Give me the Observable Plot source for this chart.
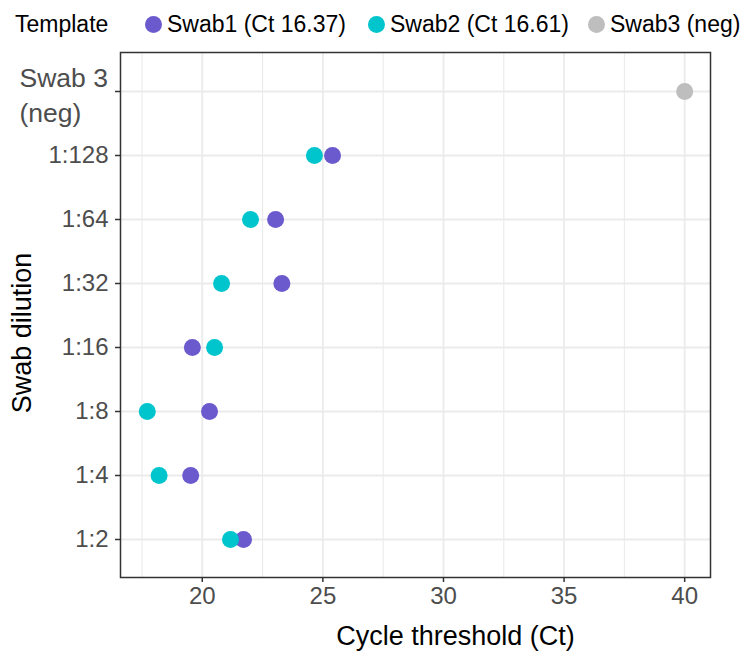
<!DOCTYPE html>
<html><head><meta charset="utf-8">
<script src="https://cdn.jsdelivr.net/npm/d3@7"></script>
<script src="https://cdn.jsdelivr.net/npm/@observablehq/plot@0.6"></script>
<style>
body{margin:0;background:#fff;font-family:"Liberation Sans",Arial,Helvetica,sans-serif;}
#legend{position:relative;height:48px;width:749px;font-size:23px;color:#000;}
.item{position:absolute;top:0;height:48px;display:flex;align-items:center;white-space:nowrap;}
.dot{width:17px;height:17px;border-radius:50%;margin-right:5px;}
</style></head><body>
<div id="legend"></div><div id="chart"></div>
<script>
const legendTitle = "Template";
const templates = ["Swab1 (Ct 16.37)", "Swab2 (Ct 16.61)", "Swab3 (neg)"];
const colors = ["#6A5ACD", "#00C5CD", "#BEBEBE"];
const dilutions = ["Swab 3\n(neg)", "1:128", "1:64", "1:32", "1:16", "1:8", "1:4", "1:2"];
const swabDilutions = ["1:2", "1:4", "1:8", "1:16", "1:32", "1:64", "1:128"];
const swab1Ct = [21.71, 19.52, 20.30, 19.59, 23.30, 23.04, 25.40];
const swab2Ct = [21.17, 18.21, 17.72, 20.51, 20.80, 22.00, 24.65];
const negDilutions = ["Swab 3\n(neg)"];
const swab3Ct = [40.0];
const xTicks = [20, 25, 30, 35, 40];
const xMinorTicks = [17.5, 22.5, 27.5, 32.5, 37.5];
const xTitle = "Cycle threshold (Ct)";
const yTitle = "Swab dilution";

const data = [
  ...swabDilutions.map((d, i) => ({dilution: d, ct: swab1Ct[i], template: templates[0]})),
  ...swabDilutions.map((d, i) => ({dilution: d, ct: swab2Ct[i], template: templates[1]})),
  ...negDilutions.map((d, i) => ({dilution: d, ct: swab3Ct[i], template: templates[2]}))
];

// legend
const legend = document.getElementById("legend");
const lt = document.createElement("div");
lt.className = "item"; lt.style.left = "15px"; lt.textContent = legendTitle;
legend.appendChild(lt);
const lefts = [145, 368, 588];
templates.forEach((t, i) => {
  const it = document.createElement("div");
  it.className = "item"; it.style.left = lefts[i] + "px";
  const dot = document.createElement("span");
  dot.className = "dot"; dot.style.background = colors[i];
  it.appendChild(dot);
  it.appendChild(document.createTextNode(t));
  legend.appendChild(it);
});

const plot = Plot.plot({
  width: 749,
  height: 616,
  marginTop: 4,
  marginBottom: 87,
  marginLeft: 120,
  marginRight: 39,
  style: {fontFamily: '"Liberation Sans", Arial, Helvetica, sans-serif', background: "#fff"},
  x: {domain: [16.61, 41.07]},
  y: {type: "point", domain: dilutions, padding: 0.6},
  color: {domain: templates, range: colors},
  marks: [
    Plot.gridX(xMinorTicks, {stroke: "#EBEBEB", strokeOpacity: 1, strokeWidth: 1.1}),
    Plot.gridX(xTicks, {stroke: "#EBEBEB", strokeOpacity: 1, strokeWidth: 1.8}),
    Plot.gridY(dilutions, {stroke: "#EBEBEB", strokeOpacity: 1, strokeWidth: 1.8}),
    Plot.frame({stroke: "#333333", strokeWidth: 1.5}),
    Plot.axisX({ticks: xTicks, tickSize: 5, tickPadding: 4, fontSize: 24, fill: "#4D4D4D", stroke: "#333333", strokeWidth: 1.5, label: null}),
    Plot.axisY({ticks: dilutions, tickSize: 5, tickPadding: 7, fontSize: 24, fill: "#4D4D4D", stroke: "#333333", strokeWidth: 1.5, label: null,
      tickFormat: d => d.includes("\n") ? "" : d}),
    Plot.text(negDilutions, {y: d => d, text: d => d, frameAnchor: "left", dx: -101, dy: 2, textAnchor: "start", lineAnchor: "middle", lineHeight: 1.3, fontSize: 26.5, fill: "#4D4D4D"}),
    Plot.text([xTitle], {text: d => d, frameAnchor: "bottom", dx: 40, dy: 59, textAnchor: "middle", lineAnchor: "middle", fontSize: 27, fill: "#000"}),
    Plot.text([yTitle], {text: d => d, frameAnchor: "left", dx: -98, dy: 18, rotate: -90, textAnchor: "middle", lineAnchor: "middle", fontSize: 27, fill: "#000"}),
    Plot.dot(data, {x: "ct", y: "dilution", fill: "template", r: 8.5})
  ]
});
document.getElementById("chart").appendChild(plot);
</script>
</body></html>
